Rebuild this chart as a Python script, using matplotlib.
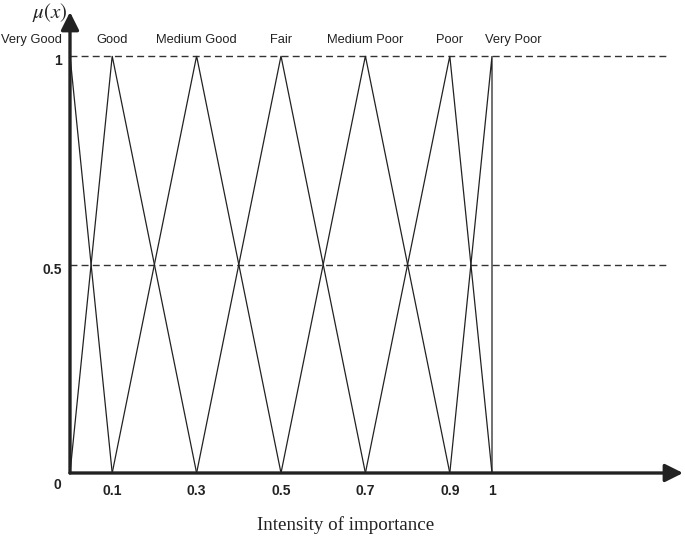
import matplotlib
matplotlib.use("Agg")
import matplotlib.pyplot as plt

# Data
categories = ["Very Good", "Good", "Medium Good", "Fair", "Medium Poor", "Poor", "Very Poor"]
left = [0, 0, 0.1, 0.3, 0.5, 0.7, 0.9]
peak = [0, 0.1, 0.3, 0.5, 0.7, 0.9, 1]
right = [0.1, 0.3, 0.5, 0.7, 0.9, 1, 1]
x_ticks = [0, 0.1, 0.3, 0.5, 0.7, 0.9, 1]
x_tick_labels = ["0", "0.1", "0.3", "0.5", "0.7", "0.9", "1"]
y_ticks = [0.5, 1]
y_tick_labels = ["0.5", "1"]

plt.rcParams['mathtext.fontset'] = 'stix'

W, H = 685, 541
fig = plt.figure(figsize=(W / 100, H / 100), dpi=100)
ax = fig.add_axes([0, 0, 1, 1])
ax.set_axis_off()

# pixel mapping: x_px = 70 + 422*x ; y_px(top) = 473 - 417*y
x0, sx = 70, 422
y0, sy = 473, 417
ax.set_xlim(-x0 / sx, (W - x0) / sx)
ax.set_ylim((y0 - H) / sy, y0 / sy)

def px2x(p):
    return (p - x0) / sx

def px2y(p):
    return (y0 - p) / sy

line_col = "#222222"

# dashed reference lines
for yv in y_ticks:
    ax.plot([0, px2x(668)], [yv, yv], color="#333333", lw=1.0,
            linestyle=(0, (5, 3)), zorder=1)

# triangular membership functions
for a, b, c in zip(left, peak, right):
    ax.plot([a, b, c], [0, 1, 0], color=line_col, lw=0.9, zorder=2,
            solid_joinstyle='miter')

# axes with arrows
arrow_kw = dict(arrowstyle='-|>,head_length=0.4,head_width=0.2', lw=2.4,
                color=line_col, shrinkA=0, shrinkB=0, mutation_scale=27)
ax.annotate('', xy=(px2x(683), 0), xytext=(0, 0), arrowprops=arrow_kw, zorder=3)
ax.annotate('', xy=(0, px2y(12)), xytext=(0, 0), arrowprops=arrow_kw, zorder=3)

sans = "Liberation Sans"
txt_col = "#222222"

# x tick labels
for xv, lab in zip(x_ticks, x_tick_labels):
    if xv == 0:
        ax.text(px2x(57), px2y(485), lab, ha='center', va='center',
                fontsize=10, fontweight='bold', family=sans, color=txt_col)
    else:
        ax.text(xv, px2y(491), lab, ha='center', va='center',
                fontsize=10, fontweight='bold', family=sans, color=txt_col)

# y tick labels
for yv, lab in zip(y_ticks, y_tick_labels):
    ax.text(px2x(62), yv - 0.012, lab, ha='right', va='center',
            fontsize=10, fontweight='bold', family=sans, color=txt_col)

# category labels
for i, (cat, b) in enumerate(zip(categories, peak)):
    if i == 0:
        ax.text(px2x(62), px2y(40), cat, ha='right', va='center',
                fontsize=9.3, family=sans, color=txt_col)
    elif i == len(categories) - 1:
        ax.text(px2x(485), px2y(40), cat, ha='left', va='center',
                fontsize=9.3, family=sans, color=txt_col)
    else:
        ax.text(b, px2y(40), cat, ha='center', va='center',
                fontsize=9.3, family=sans, color=txt_col)

# y-axis label
ax.text(px2x(50), px2y(12), r'$\mu(x)$', ha='center', va='center',
        fontsize=15, color=txt_col)

# x-axis label
ax.text(px2x(346), px2y(525), "Intensity of importance", ha='center',
        va='center', fontsize=13.7, family="Liberation Serif", color=txt_col)

fig.savefig("out.png", dpi=100)
